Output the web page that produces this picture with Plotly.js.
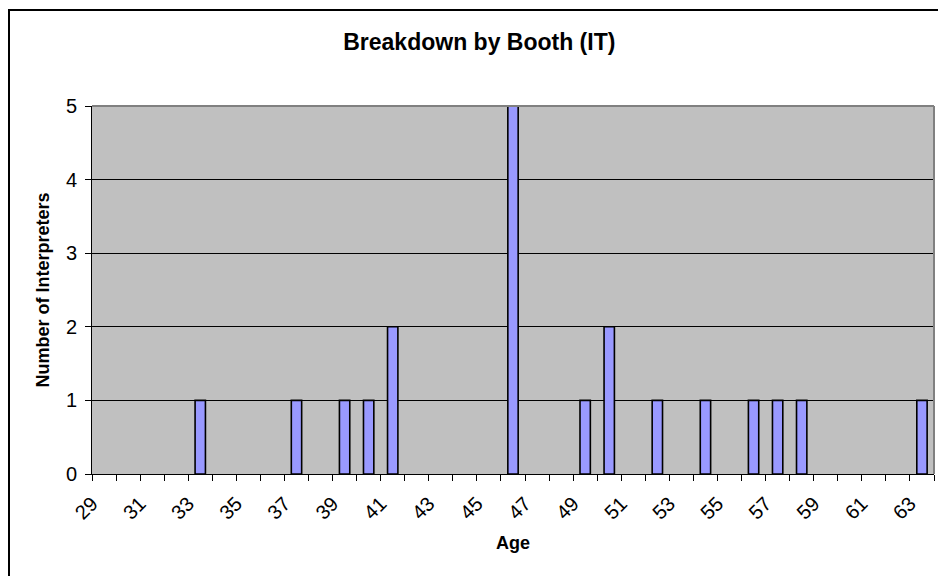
<!DOCTYPE html>
<html>
<head>
<meta charset="utf-8">
<script src="https://cdn.plot.ly/plotly-3.0.1.min.js"></script>
<style>
  html, body { margin: 0; padding: 0; overflow: hidden; background: #fff; }
  #wrap { position: relative; width: 938px; height: 576px; overflow: hidden; }
  #chart { width: 938px; height: 576px; }
  #frame { position: absolute; left: 8px; top: 9px; width: 2000px; height: 2000px;
           border: 2px solid #000; pointer-events: none; box-sizing: border-box; }
</style>
</head>
<body>
<div id="wrap">
  <div id="chart"></div>
  <div id="frame"></div>
</div>
<script>
// Data
const ages   = [33, 37, 39, 40, 41, 46, 49, 50, 52, 54, 56, 57, 58, 63];
const counts = [ 1,  1,  1,  1,  2,  5,  1,  2,  1,  1,  1,  1,  1,  1];
const tickAges   = [29, 31, 33, 35, 37, 39, 41, 43, 45, 47, 49, 51, 53, 55, 57, 59, 61, 63];
const tickLabels = ['29','31','33','35','37','39','41','43','45','47','49','51','53','55','57','59','61','63'];
const yTicks = [0, 1, 2, 3, 4, 5];

const chartTitle = 'Breakdown by Booth (IT)';
const xTitle = 'Age';
const yTitle = 'Number of Interpreters';

const FONT = 'Liberation Sans, Arial, sans-serif';

const trace = {
  type: 'bar',
  x: ages,
  y: counts,
  width: 0.43,
  marker: { color: '#9999FF', line: { color: '#000000', width: 1.6 } },
  hoverinfo: 'x+y'
};

const layout = {
  width: 938,
  height: 576,
  margin: { l: 92, r: 4, t: 106, b: 102 },
  paper_bgcolor: '#FFFFFF',
  plot_bgcolor: '#C0C0C0',
  showlegend: false,
  font: { family: FONT, size: 18, color: '#000' },
  title: {
    text: '<b>' + chartTitle + '</b>',
    font: { family: FONT, size: 23, color: '#000' },
    x: 0.511, xanchor: 'center',
    y: 0.927, yanchor: 'middle'
  },
  xaxis: {
    type: 'linear',
    range: [28.5, 63.5],
    tickmode: 'array',
    tickvals: tickAges,
    ticktext: tickLabels,
    tickangle: -45,
    ticks: 'outside',
    ticklen: 0,
    tickcolor: '#000',
    ticklabelshift: -12,
    ticklabelstandoff: 9,
    tickfont: { family: FONT, size: 20, color: '#000' },
    minor: { tickmode: 'linear', tick0: 28.5, dtick: 1, ticks: 'outside', ticklen: 6, tickcolor: '#000', tickwidth: 1, showgrid: false },
    showline: true, linecolor: '#000', linewidth: 1,
    showgrid: false, zeroline: false,
    fixedrange: true,
    title: { text: '<b>' + xTitle + '</b>', font: { family: FONT, size: 18, color: '#000' }, standoff: 13 }
  },
  yaxis: {
    range: [0, 5],
    tickmode: 'array',
    tickvals: yTicks,
    ticks: 'outside',
    ticklen: 6,
    tickcolor: '#000',
    ticklabelstandoff: 4,
    tickfont: { family: FONT, size: 20, color: '#000' },
    showline: true, linecolor: '#000', linewidth: 1,
    showgrid: true, gridcolor: '#000', gridwidth: 1,
    zeroline: false,
    fixedrange: true,
    title: { text: '<b>' + yTitle + '</b>', font: { family: FONT, size: 18, color: '#000' }, standoff: 11 }
  },
  shapes: [
    { type: 'line', xref: 'paper', yref: 'paper', x0: 0, x1: 1, y0: 1, y1: 1,
      line: { color: '#808080', width: 2 }, layer: 'above' },
    { type: 'line', xref: 'paper', yref: 'paper', x0: 1, x1: 1, y0: 0, y1: 1,
      line: { color: '#808080', width: 2 }, layer: 'above' }
  ]
};

Plotly.newPlot('chart', [trace], layout, { displayModeBar: false, staticPlot: true });
</script>
</body>
</html>
